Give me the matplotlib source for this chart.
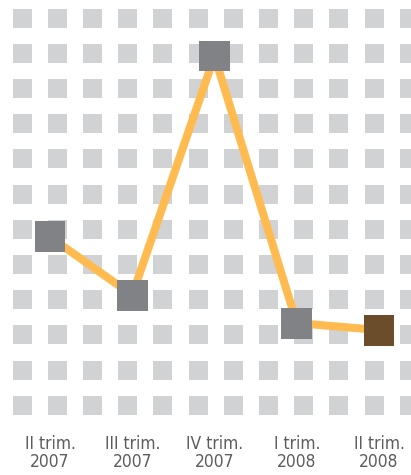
import matplotlib.pyplot as plt
from matplotlib.patches import Rectangle
from matplotlib.transforms import blended_transform_factory

quarters = ['II trim.', 'III trim.', 'IV trim.', 'I trim.', 'II trim.']
years = ['2007', '2007', '2007', '2008', '2008']
values = [5.23, 3.57, 10.40, 2.77, 2.57]
marker_colors = ['#808285', '#808285', '#808285', '#808285', '#6b4c2b']

W, H = 411, 475
fig = plt.figure(figsize=(W / 100, H / 100), dpi=100)

# dotted background: 12 x 12 light gray squares
bg = fig.add_axes([0, 0, 1, 1])
bg.set_xlim(0, W)
bg.set_ylim(H, 0)
bg.axis('off')
step, side = 35.2, 19
for r in range(12):
    for c in range(12):
        cx, cy = 22 + c * step, 18 + r * step
        bg.add_patch(Rectangle((cx - side / 2, cy - side / 2), side, side,
                               color='#d1d2d4', lw=0))

ax = fig.add_axes([0, 0, 1, 1])
ax.patch.set_alpha(0)
ax.axis('off')
# x index 0..4 sits at pixels 50..379; value v sits at pixel 420 - 35 v
ax.set_xlim(-50 / 82.25, 4 + (W - 379) / 82.25)
ax.set_ylim((420 - H) / 35, 420 / 35)

xs = list(range(len(values)))
ax.plot(xs, values, color='#ffbb4f', lw=5.8, zorder=2, solid_capstyle='butt')
ax.scatter(xs, values, marker='s', s=22.3 ** 2, c=marker_colors,
           linewidths=0, zorder=3)

tr = blended_transform_factory(ax.transData, fig.transFigure)
font = dict(family='DejaVu Sans', stretch='condensed', weight='light',
            size=12.5, color='#5d5d5d', ha='center', va='baseline')
for i in xs:
    ax.text(i, 1 - 449 / H, quarters[i], transform=tr, **font)
    ax.text(i, 1 - 467 / H, years[i], transform=tr, **font)

fig.savefig('out.png', dpi=100)
